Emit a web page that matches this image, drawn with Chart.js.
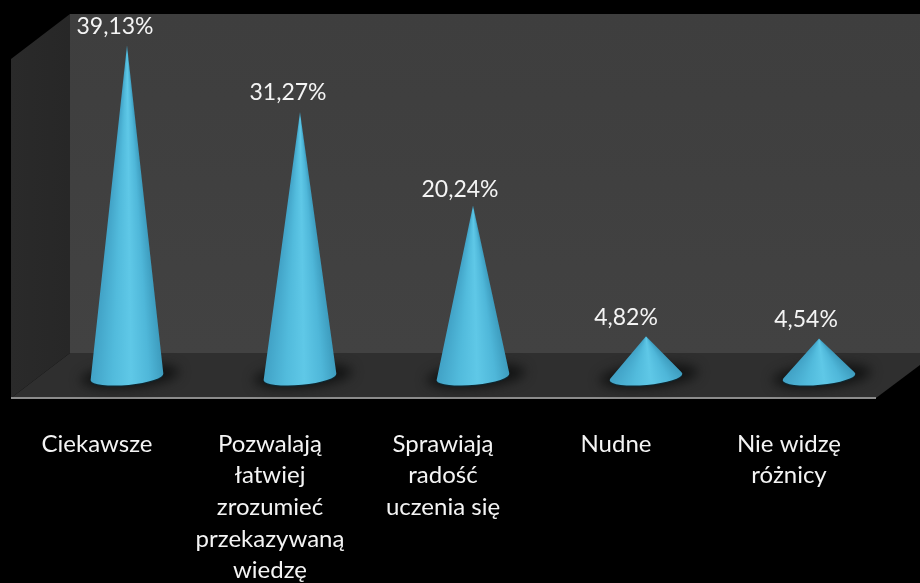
<!DOCTYPE html>
<html>
<head>
<meta charset="utf-8">
<title>Cone chart</title>
<script src="https://cdn.jsdelivr.net/npm/chart.js@4"></script>
<style>
  html, body { margin: 0; padding: 0; background: #000; }
  #wrap { width: 920px; height: 583px; }
</style>
</head>
<body>
<div id="wrap"><canvas id="chart" width="920" height="583"></canvas></div>
<script>
const categories = [
  'Ciekawsze',
  ['Pozwalają', 'łatwiej', 'zrozumieć', 'przekazywaną', 'wiedzę'],
  ['Sprawiają', 'radość', 'uczenia się'],
  'Nudne',
  ['Nie widzę', 'różnicy']
];
const values = [39.13, 31.27, 20.24, 4.82, 4.54];

const FONT = 'Lato, "Open Sans", sans-serif';
// the value labels are not centred on the cones in the original
const labelShiftX = [-12, -12, -13, -20, -13];
const labelShiftY = [-2, -3, 1, -2, -2];

// room + floor, drawn behind the cones
const roomPlugin = {
  id: 'room',
  beforeDraw(chart) {
    const { ctx } = chart;
    ctx.save();
    ctx.fillStyle = '#000';
    ctx.fillRect(0, 0, chart.width, chart.height);

    // back wall
    const back = ctx.createLinearGradient(0, 14, 0, 353);
    back.addColorStop(0, '#3e3e3e');
    back.addColorStop(1, '#424242');
    ctx.fillStyle = back;
    ctx.fillRect(70, 14, 850, 339);

    // left wall
    const side = ctx.createLinearGradient(11, 0, 70, 0);
    side.addColorStop(0, '#2a2a2a');
    side.addColorStop(1, '#272727');
    ctx.fillStyle = side;
    ctx.beginPath();
    ctx.moveTo(11, 59);
    ctx.lineTo(70, 14);
    ctx.lineTo(70, 353);
    ctx.lineTo(11, 398);
    ctx.closePath();
    ctx.fill();

    // floor
    ctx.fillStyle = '#2f2f2f';
    ctx.beginPath();
    ctx.moveTo(70, 353);
    ctx.lineTo(920, 353);
    ctx.lineTo(920, 365);
    ctx.lineTo(876, 398);
    ctx.lineTo(11, 398);
    ctx.closePath();
    ctx.fill();

    // front edge
    ctx.strokeStyle = '#8c8c8c';
    ctx.lineWidth = 2;
    ctx.beginPath();
    ctx.moveTo(11, 398);
    ctx.lineTo(876, 398);
    ctx.stroke();
    ctx.restore();
  }
};

// draws a cone on every bar element, using the bar's own x / y / base / width
const conePlugin = {
  id: 'cones',
  afterDatasetsDraw(chart) {
    const { ctx } = chart;
    const bars = chart.getDatasetMeta(0).data;
    bars.forEach((bar, i) => {
      const rx = bar.width / 2;
      const ry = 8;
      const tilt = -0.09;
      const cx = bar.x;
      const cy = bar.base;
      // where the sides touch the base ellipse
      const a = Math.asin(ry / (cy - bar.y));
      const lx = cx - rx * Math.cos(tilt), ly = cy - rx * Math.sin(tilt);
      const tx = cx + rx * Math.cos(tilt), ty = cy + rx * Math.sin(tilt);

      ctx.save();
      // soft shadow on the floor
      ctx.save();
      ctx.filter = 'blur(6px)';
      ctx.fillStyle = 'rgba(14,15,16,0.9)';
      ctx.beginPath();
      ctx.ellipse(cx + 3, cy - 1, rx * 1.35, ry * 1.45, tilt, 0, Math.PI * 2);
      ctx.fill();
      ctx.restore();

      ctx.filter = 'blur(0.5px)';
      // dark rim under the base
      ctx.fillStyle = '#0f2730';
      ctx.beginPath();
      ctx.ellipse(cx, cy + 1.2, rx, ry, tilt, 0, Math.PI * 2);
      ctx.fill();

      // body: conic gradient around the apex, so shading follows the cone
      const aR = Math.atan2(ty - bar.y, tx - cx);
      const aL = Math.atan2(ly - bar.y, lx - cx);
      const span = (aL - aR) / (Math.PI * 2);
      const g = ctx.createConicGradient(aR, cx, bar.y);
      g.addColorStop(0, '#3d9cbe');
      g.addColorStop(span * 0.2, '#4fb7d9');
      g.addColorStop(span * 0.45, '#5fc8e7');
      g.addColorStop(span * 0.7, '#52bbdc');
      g.addColorStop(span, '#41a2c6');
      g.addColorStop(Math.min(1, span + 0.001), '#41a2c6');
      ctx.fillStyle = g;
      ctx.beginPath();
      ctx.moveTo(cx, bar.y);
      ctx.ellipse(cx, cy, rx, ry, tilt, -a, Math.PI + a);
      ctx.closePath();
      ctx.fill();
      ctx.restore();

      // value label
      ctx.save();
      ctx.fillStyle = '#f4f4f4';
      ctx.font = '23px ' + FONT;
      ctx.textAlign = 'center';
      ctx.textBaseline = 'bottom';
      const txt = values[i].toFixed(2).replace('.', ',') + '%';
      ctx.fillText(txt, cx + labelShiftX[i], bar.y - 5 + labelShiftY[i]);
      ctx.restore();
    });
  }
};

new Chart(document.getElementById('chart'), {
  type: 'bar',
  data: {
    labels: categories,
    datasets: [{
      data: values,
      backgroundColor: 'transparent',
      borderWidth: 0,
      categoryPercentage: 1,
      barPercentage: 0.422
    }]
  },
  options: {
    responsive: false,
    animation: false,
    layout: { padding: { left: 40.5, right: 14.5, top: 38, bottom: 0 } },
    plugins: { legend: { display: false }, tooltip: { enabled: false } },
    scales: {
      x: {
        grid: { display: false },
        border: { display: false },
        afterFit(scale) { scale.height = 206; },
        ticks: {
          color: '#f4f4f4',
          font: { family: FONT, size: 24, lineHeight: 1.32 },
          padding: 43,
          labelOffset: -30,
          autoSkip: false,
          maxRotation: 0,
          minRotation: 0
        }
      },
      y: { display: false, min: 0, max: 40 }
    }
  },
  plugins: [roomPlugin, conePlugin]
});
</script>
</body>
</html>
